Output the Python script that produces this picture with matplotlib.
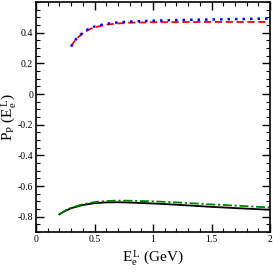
import numpy as np
import matplotlib
matplotlib.use("Agg")
import matplotlib.pyplot as plt
from matplotlib.ticker import MultipleLocator

# upper pair of curves
e_up = [0.30, 0.33, 0.36, 0.40, 0.45, 0.50, 0.60, 0.70, 0.80, 1.00, 1.20, 1.50, 1.75, 2.00]
p_red = [0.31, 0.345, 0.37, 0.395, 0.42, 0.435, 0.452, 0.460, 0.465, 0.468, 0.469, 0.470, 0.470, 0.470]
p_blue = [0.31, 0.347, 0.373, 0.40, 0.425, 0.44, 0.458, 0.467, 0.472, 0.478, 0.482, 0.486, 0.489, 0.492]

# lower pair of curves
e_low = [0.20, 0.25, 0.30, 0.40, 0.50, 0.60, 0.70, 0.80, 1.00, 1.20, 1.50, 1.75, 2.00]
p_black = [-0.785, -0.762, -0.745, -0.724, -0.712, -0.707, -0.706, -0.708, -0.714, -0.722, -0.736, -0.746, -0.755]
p_green = [-0.785, -0.760, -0.742, -0.719, -0.705, -0.698, -0.695, -0.696, -0.700, -0.707, -0.720, -0.730, -0.740]

plt.rcParams["font.family"] = ["Liberation Serif", "DejaVu Serif"]
plt.rcParams["mathtext.fontset"] = "custom"
plt.rcParams["mathtext.rm"] = "Liberation Serif"
plt.rcParams["mathtext.it"] = "Liberation Serif:italic"
plt.rcParams["mathtext.bf"] = "Liberation Serif:bold"

fig = plt.figure(figsize=(2.73, 2.73), dpi=100)
ax = fig.add_axes([36 / 273, 41 / 273, 234 / 273, 230 / 273])

ax.plot(e_up, p_red, color="red", linestyle=(0, (4, 2)), linewidth=1.3)
ax.plot(e_up, p_blue, color="blue", linestyle=(0, (1, 2)), linewidth=1.8)
ax.plot(e_low, p_black, color="black", linestyle="-", linewidth=1.3)
ax.plot(e_low, p_green, color="green", linestyle=(0, (5, 1.5, 1.2, 1.5)), linewidth=1.3)

ax.set_xlim(0, 2)
ax.set_ylim(-0.9, 0.6)
ax.set_xticks([0, 0.5, 1, 1.5, 2])
ax.set_xticklabels(["0", "0.5", "1", "1.5", "2"])
ax.set_yticks([-0.8, -0.6, -0.4, -0.2, 0, 0.2, 0.4])
ax.set_yticklabels(["-0.8", "-0.6", "-0.4", "-0.2", "0", "0.2", "0.4"])
ax.xaxis.set_minor_locator(MultipleLocator(0.1))
ax.yaxis.set_minor_locator(MultipleLocator(0.05))
ax.tick_params(which="both", direction="in", top=True, right=True, labelsize=7)
ax.tick_params(which="major", length=6, width=1, pad=2)
ax.tick_params(which="minor", length=3, width=0.8)
for s in ax.spines.values():
    s.set_linewidth(1.2)

ax.set_xlabel(r"E$_\mathrm{e}^{\,\mathrm{L}}$ (GeV)", fontsize=11, labelpad=3)
ax.set_ylabel(r"P$_\mathrm{P}$ (E$_\mathrm{e}^{\,\mathrm{L}}$)", fontsize=11)
ax.yaxis.set_label_coords(-0.078, 0.5)

fig.savefig("out.png", dpi=100)
